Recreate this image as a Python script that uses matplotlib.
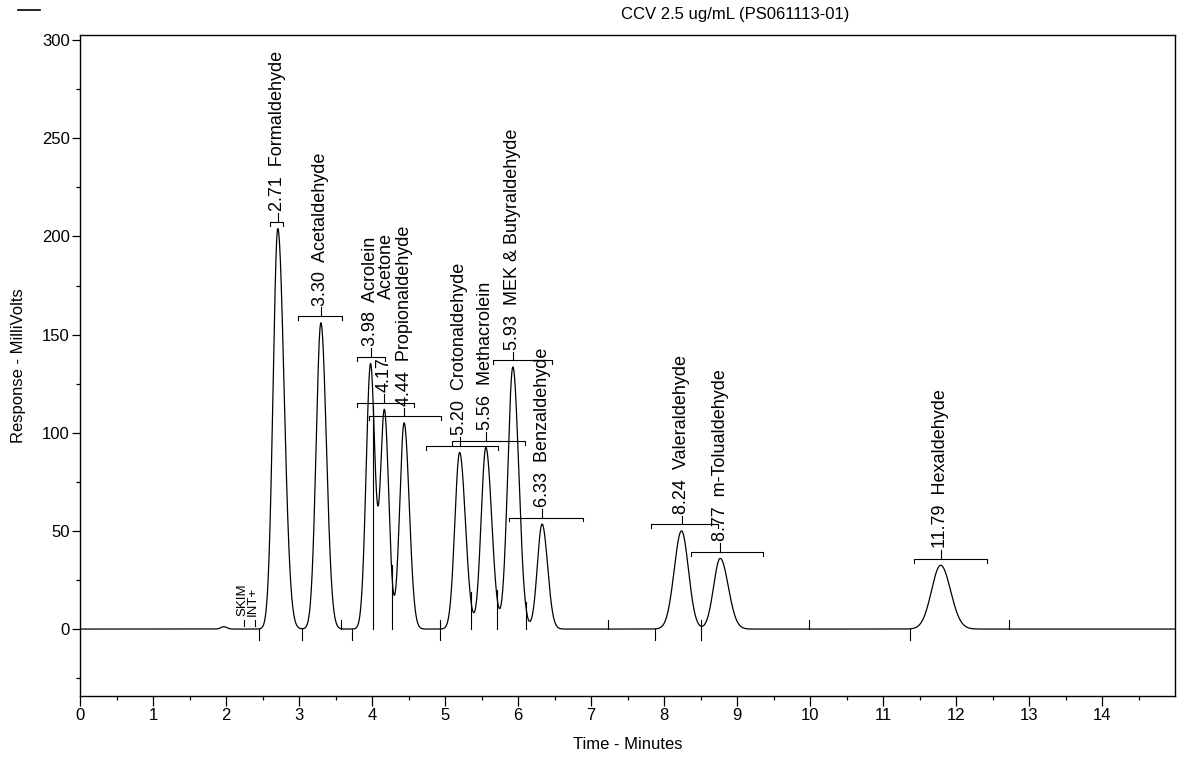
"""
Chromatogram of the CCV 2.5 ug/mL carbonyl standard
"""

import numpy as np
import matplotlib.pyplot as plt
from matplotlib.lines import Line2D

plt.rcParams["font.family"] = ["Liberation Sans", "DejaVu Sans"]

# identified peaks
names = ["Formaldehyde", "Acetaldehyde", "Acrolein", "Acetone",
         "Propionaldehyde", "Crotonaldehyde", "Methacrolein",
         "MEK & Butyraldehyde", "Benzaldehyde", "Valeraldehyde",
         "m-Tolualdehyde", "Hexaldehyde"]
ret_times = [2.71, 3.30, 3.98, 4.17, 4.44, 5.20, 5.56, 5.93, 6.33, 8.24, 8.77, 11.79]
heights = [204, 156, 135, 111, 105, 90, 92.5, 133.5, 53.5, 50, 36, 32.5]
sigma_left = [0.065, 0.065, 0.060, 0.055, 0.060, 0.065, 0.065, 0.070, 0.065, 0.100, 0.090, 0.125]
sigma_right = [0.085, 0.075, 0.060, 0.060, 0.070, 0.080, 0.080, 0.080, 0.075, 0.095, 0.110, 0.135]

# integration windows shown as brackets over each peak
win_start = [2.60, 2.99, 3.79, 3.79, 3.96, 4.74, 5.10, 5.66, 5.88, 7.82, 8.37, 11.42]
win_end = [2.78, 3.59, 4.18, 4.57, 4.94, 5.73, 6.09, 6.46, 6.89, 8.74, 9.36, 12.43]

# small unlabelled bump before the solvent region
bump_times = [1.97]
bump_heights = [1.2]
bump_sigma = [0.04]

# integration event marks on the baseline
start_marks = [2.45, 3.04, 3.73, 4.93, 7.87, 8.50, 11.37]
end_marks = [3.57, 4.93, 7.23, 9.98, 12.73]
drop_marks = [4.02, 4.27, 5.35, 5.71, 6.11, 8.50]
event_times = [2.25, 2.40]
event_labels = ["SKIM", "INT+"]

# names printed away from their retention time label
name_raised = {"Acetone": 201.5}

x_ticks = list(range(0, 15))
y_ticks = [0, 50, 100, 150, 200, 250, 300]


def peak(t, rt, h, sl, sr):
    s = np.where(t < rt, sl, sr)
    return h * np.exp(-0.5 * ((t - rt) / s) ** 2)


t = np.linspace(0, 15, 7501)
signal = np.zeros_like(t)
for i in range(len(names)):
    signal += peak(t, ret_times[i], heights[i], sigma_left[i], sigma_right[i])
for i in range(len(bump_times)):
    signal += peak(t, bump_times[i], bump_heights[i], bump_sigma[i], bump_sigma[i])


def level(x):
    return float(np.interp(x, t, signal))


fig = plt.figure(figsize=(11.78, 7.62), dpi=100)
ax = fig.add_axes([80 / 1178, 66 / 762, 1095 / 1178, 661 / 762])

ax.plot(t, signal, color="black", lw=0.9)
ax.set_xlim(0, 15)
ax.set_ylim(-34.1, 302.6)

lab_kw = dict(rotation=90, ha="center", va="bottom", fontsize=13)

for i, name in enumerate(names):
    rt = ret_times[i]
    top = level(rt) + 3.3
    ax.plot([win_start[i], win_start[i], win_end[i], win_end[i]],
            [top - 2, top, top, top - 2], color="black", lw=0.8)
    ax.plot([rt, rt], [top, top + 4.5], color="black", lw=0.8)
    if name in name_raised:
        ax.text(rt, top + 5.5, f"{rt:.2f}", **lab_kw)
        ax.text(rt + 0.03, name_raised[name], name, rotation=90,
                ha="center", va="top", fontsize=13)
    else:
        ax.text(rt, top + 5.5, f"{rt:.2f}  {name}", **lab_kw)

for x in start_marks:
    ax.plot([x, x], [0, -5.5], color="black", lw=0.8)
for x in end_marks:
    ax.plot([x, x], [0, 4.5], color="black", lw=0.8)
for x in drop_marks:
    ax.plot([x, x], [0, level(x) + 3], color="black", lw=0.8)

for x, lab in zip(event_times, event_labels):
    ax.plot([x, x], [1.5, 4.5], color="black", lw=0.8)
    ax.text(x - 0.03, 6.5, lab, rotation=90, ha="center", va="bottom", fontsize=9.5)

ax.set_xticks(x_ticks)
ax.set_xticks(np.arange(0.5, 15, 1), minor=True)
ax.set_yticks(y_ticks)
ax.set_yticks(np.arange(-25, 301, 50), minor=True)
ax.tick_params(axis="x", which="major", direction="out", length=7, width=0.9,
               labelsize=12, pad=2)
ax.tick_params(axis="x", which="minor", direction="out", length=3, width=0.9)
ax.tick_params(axis="y", which="major", direction="out", length=6, width=0.9,
               labelsize=12, pad=1.5)
ax.tick_params(axis="y", which="minor", direction="out", length=3, width=0.9)
for sp in ax.spines.values():
    sp.set_linewidth(1.0)

ax.set_xlabel("Time - Minutes", fontsize=12, labelpad=10)
ax.set_ylabel("Response - MilliVolts", fontsize=12)
ax.yaxis.set_label_coords(-0.049, 0.5)

fig.text(735 / 1178, 1 - 14 / 762, "CCV 2.5 ug/mL (PS061113-01)",
         ha="center", va="center", fontsize=12)
fig.add_artist(Line2D([18 / 1178, 40 / 1178], [1 - 10 / 762, 1 - 10 / 762],
                      color="black", lw=1.2))

fig.savefig("out.png", dpi=100, facecolor="white")
